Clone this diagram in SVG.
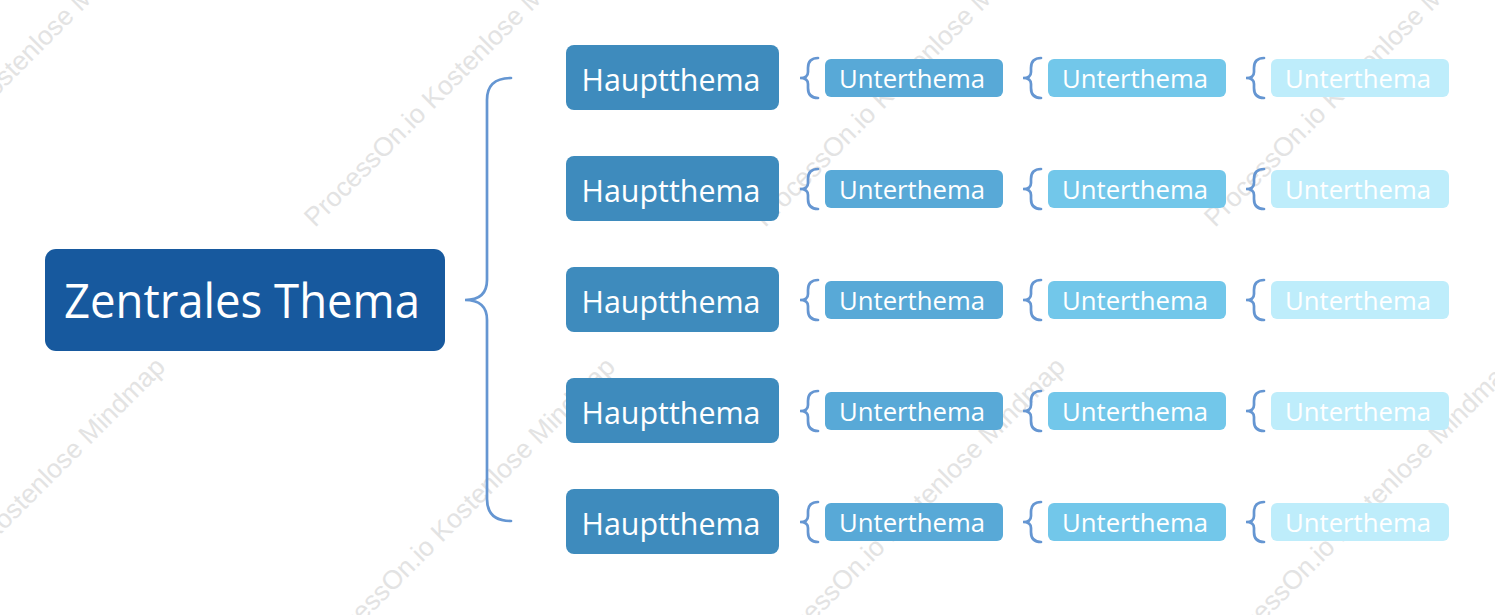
<svg xmlns="http://www.w3.org/2000/svg" width="1495" height="615" viewBox="0 0 1495 615">
<defs>
<style>
.wm{font-family:"Liberation Sans",Arial,sans-serif;font-size:26.5px;fill:#e3e3e3}
.br{fill:none;stroke:#6596d2;stroke-width:2.7;stroke-linecap:round}
.t{font-family:"Open Sans","Noto Sans","Liberation Sans",sans-serif;fill:#ffffff;text-anchor:middle}
.h{font-size:31px}
.u{font-size:25px}
.main rect{fill:#3e8bbd}
.s1 rect{fill:#58a9d7}
.s2 rect{fill:#72c7ea}
.s3 rect{fill:#beedfb}
</style>
<path id="sb" class="br" d="M18,-20 Q8,-20 8,-10 L8,-6 Q8,0 0,0 Q8,0 8,6 L8,10 Q8,20 18,20"/>
</defs>
<rect width="1495" height="615" fill="#ffffff"/>
<g id="watermark">
<text class="wm" transform="translate(-135,228) rotate(-45)">ProcessOn.io Kostenlose Mindmap</text>
<text class="wm" transform="translate(315,228) rotate(-45)">ProcessOn.io Kostenlose Mindmap</text>
<text class="wm" transform="translate(765,228) rotate(-45)">ProcessOn.io Kostenlose Mindmap</text>
<text class="wm" transform="translate(1215,228) rotate(-45)">ProcessOn.io Kostenlose Mindmap</text>
<text class="wm" transform="translate(-126,661) rotate(-45)">ProcessOn.io Kostenlose Mindmap</text>
<text class="wm" transform="translate(324,661) rotate(-45)">ProcessOn.io Kostenlose Mindmap</text>
<text class="wm" transform="translate(774,661) rotate(-45)">ProcessOn.io Kostenlose Mindmap</text>
<text class="wm" transform="translate(1224,661) rotate(-45)">ProcessOn.io Kostenlose Mindmap</text>
</g>
<g id="connectors">
<path class="br" d="M511,78 Q487,78 487,100 L487,280 Q487,300 465,300 Q487,300 487,320 L487,499 Q487,521 511,521"/>
<use href="#sb" x="800" y="78"/><use href="#sb" x="1023" y="78"/><use href="#sb" x="1246" y="78"/>
<use href="#sb" x="800" y="189"/><use href="#sb" x="1023" y="189"/><use href="#sb" x="1246" y="189"/>
<use href="#sb" x="800" y="300"/><use href="#sb" x="1023" y="300"/><use href="#sb" x="1246" y="300"/>
<use href="#sb" x="800" y="411"/><use href="#sb" x="1023" y="411"/><use href="#sb" x="1246" y="411"/>
<use href="#sb" x="800" y="522"/><use href="#sb" x="1023" y="522"/><use href="#sb" x="1246" y="522"/>
</g>
<g id="central">
<rect x="45" y="249" width="400" height="102" rx="11" fill="#17599e"/>
<text class="t" x="242" y="318" font-size="48" textLength="356" lengthAdjust="spacingAndGlyphs">Zentrales Thema</text>
</g>
<g id="main1" class="main"><rect x="566" y="45" width="213" height="65" rx="8"/><text class="t h" x="671" y="91" textLength="179" lengthAdjust="spacingAndGlyphs">Hauptthema</text></g>
<g id="main2" class="main"><rect x="566" y="156" width="213" height="65" rx="8"/><text class="t h" x="671" y="202" textLength="179" lengthAdjust="spacingAndGlyphs">Hauptthema</text></g>
<g id="main3" class="main"><rect x="566" y="267" width="213" height="65" rx="8"/><text class="t h" x="671" y="313" textLength="179" lengthAdjust="spacingAndGlyphs">Hauptthema</text></g>
<g id="main4" class="main"><rect x="566" y="378" width="213" height="65" rx="8"/><text class="t h" x="671" y="424" textLength="179" lengthAdjust="spacingAndGlyphs">Hauptthema</text></g>
<g id="main5" class="main"><rect x="566" y="489" width="213" height="65" rx="8"/><text class="t h" x="671" y="535" textLength="179" lengthAdjust="spacingAndGlyphs">Hauptthema</text></g>
<g id="sub1a" class="s1"><rect x="825" y="59" width="178" height="38" rx="6"/><text class="t u" x="912" y="88" textLength="146" lengthAdjust="spacingAndGlyphs">Unterthema</text></g>
<g id="sub1b" class="s2"><rect x="1048" y="59" width="178" height="38" rx="6"/><text class="t u" x="1135" y="88" textLength="146" lengthAdjust="spacingAndGlyphs">Unterthema</text></g>
<g id="sub1c" class="s3"><rect x="1271" y="59" width="178" height="38" rx="6"/><text class="t u" x="1358" y="88" textLength="146" lengthAdjust="spacingAndGlyphs">Unterthema</text></g>
<g id="sub2a" class="s1"><rect x="825" y="170" width="178" height="38" rx="6"/><text class="t u" x="912" y="199" textLength="146" lengthAdjust="spacingAndGlyphs">Unterthema</text></g>
<g id="sub2b" class="s2"><rect x="1048" y="170" width="178" height="38" rx="6"/><text class="t u" x="1135" y="199" textLength="146" lengthAdjust="spacingAndGlyphs">Unterthema</text></g>
<g id="sub2c" class="s3"><rect x="1271" y="170" width="178" height="38" rx="6"/><text class="t u" x="1358" y="199" textLength="146" lengthAdjust="spacingAndGlyphs">Unterthema</text></g>
<g id="sub3a" class="s1"><rect x="825" y="281" width="178" height="38" rx="6"/><text class="t u" x="912" y="310" textLength="146" lengthAdjust="spacingAndGlyphs">Unterthema</text></g>
<g id="sub3b" class="s2"><rect x="1048" y="281" width="178" height="38" rx="6"/><text class="t u" x="1135" y="310" textLength="146" lengthAdjust="spacingAndGlyphs">Unterthema</text></g>
<g id="sub3c" class="s3"><rect x="1271" y="281" width="178" height="38" rx="6"/><text class="t u" x="1358" y="310" textLength="146" lengthAdjust="spacingAndGlyphs">Unterthema</text></g>
<g id="sub4a" class="s1"><rect x="825" y="392" width="178" height="38" rx="6"/><text class="t u" x="912" y="421" textLength="146" lengthAdjust="spacingAndGlyphs">Unterthema</text></g>
<g id="sub4b" class="s2"><rect x="1048" y="392" width="178" height="38" rx="6"/><text class="t u" x="1135" y="421" textLength="146" lengthAdjust="spacingAndGlyphs">Unterthema</text></g>
<g id="sub4c" class="s3"><rect x="1271" y="392" width="178" height="38" rx="6"/><text class="t u" x="1358" y="421" textLength="146" lengthAdjust="spacingAndGlyphs">Unterthema</text></g>
<g id="sub5a" class="s1"><rect x="825" y="503" width="178" height="38" rx="6"/><text class="t u" x="912" y="532" textLength="146" lengthAdjust="spacingAndGlyphs">Unterthema</text></g>
<g id="sub5b" class="s2"><rect x="1048" y="503" width="178" height="38" rx="6"/><text class="t u" x="1135" y="532" textLength="146" lengthAdjust="spacingAndGlyphs">Unterthema</text></g>
<g id="sub5c" class="s3"><rect x="1271" y="503" width="178" height="38" rx="6"/><text class="t u" x="1358" y="532" textLength="146" lengthAdjust="spacingAndGlyphs">Unterthema</text></g>
</svg>
